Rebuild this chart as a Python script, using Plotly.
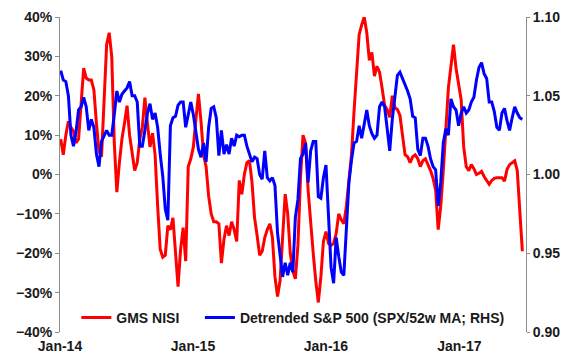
import pandas as pd
import plotly.graph_objects as go

# GMS NISI, weekly, in percent (left axis)
nisi = [9, 5, 10, 13.5, 12, 11, 8, 9, 18, 27,
        24.5, 24, 24, 21.5, 13, 6, 4.5, 18, 33, 36,
        30, 8, -4.5, 3, 9, 13, 17.5, 10, 5, 1,
        3, 9, 12, 19.5, 13, 7, 10.5, 5, -8, -19,
        -21, -20.5, -13, -14, -11, -20, -28.5, -19, -13.5, -22,
        2, 4, 7, 14, 20.5, 13.5, 5, 2, -5.5, -10,
        -12, -12, -12.5, -22.5, -16.5, -13, -15.5, -12, -14, -17,
        -1.5, -5, 0, 3, 3.5, -2, -11, -15.5, -20.5, -19.5,
        -16, -14, -12.5, -16, -26, -31, -27, -16, -5, -10,
        -20, -24.5, -26.5, -18, -1, 10, 8, -4, -13, -20,
        -27, -32.5, -26, -17, -14.5, -17.5, -18, -17.5, -15, -10,
        -11.5, -12.5, -8, -2, 5, 16, 27, 35.5, 38, 40,
        36, 29, 31, 25, 27.5, 26, 22, 17.5, 16.5, 14.5,
        20, 17, 16.5, 15, 10, 5, 4.5, 3, 4.5, 5,
        4, 2, 3.5, 4, 2.5, 1, -1, -4, -14, -8,
        1, 12, 22, 27.5, 33, 27, 23.5, 19, 7, 2,
        1, 2.5, 1.5, 0, 0.3, 0.8, -0.5, -1.5, -2.5, -1.5,
        -1, -0.8, -0.8, -0.8, -1.7, 1.3, 2.5, 3, 3.5, 1,
        -9, -19.5]

# Detrended S&P 500 (SPX / 52w MA), weekly (right axis)
spx_ratio = [1.066, 1.060, 1.059, 1.050, 1.025, 1.018, 1.027, 1.041, 1.043, 1.049,
             1.043, 1.028, 1.035, 1.030, 1.013, 1.005, 1.021, 1.025, 1.028, 1.025,
             1.025, 1.038, 1.053, 1.046, 1.051, 1.053, 1.055, 1.059, 1.050, 1.050,
             1.046, 1.018, 1.018, 1.028, 1.039, 1.045, 1.035, 1.039, 1.030, 1.013,
             0.999, 0.978, 0.971, 1.031, 1.036, 1.037, 1.044, 1.046, 1.046, 1.030,
             1.039, 1.046, 1.038, 1.028, 1.016, 1.011, 1.020, 1.008, 1.030, 1.042,
             1.043, 1.036, 1.012, 1.028, 1.013, 1.019, 1.013, 1.023, 1.018, 1.025,
             1.024, 1.025, 1.025, 1.018, 1.013, 1.008, 1.011, 1.010, 1.000, 0.997,
             1.015, 0.998, 0.996, 0.998, 0.993, 0.963, 0.949, 0.935, 0.944, 0.936,
             0.944, 0.938, 0.973, 0.984, 1.010, 1.013, 1.020, 0.995, 1.015, 1.021,
             1.021, 0.986, 0.985, 0.998, 1.006, 0.970, 0.941, 0.931, 0.960, 0.948,
             0.938, 0.936, 0.963, 0.995, 1.009, 1.020, 1.021, 1.031, 1.023, 1.031,
             1.041, 1.031, 1.026, 1.023, 1.025, 1.043, 1.046, 1.043, 1.030, 1.015,
             1.035, 1.049, 1.063, 1.065, 1.061, 1.058, 1.053, 1.048, 1.037, 1.036,
             1.016, 1.012, 1.023, 1.023, 1.018, 1.010, 1.005, 1.003, 0.980, 0.995,
             1.020, 1.029, 1.025, 1.048, 1.043, 1.041, 1.031, 1.039, 1.043, 1.039,
             1.041, 1.046, 1.049, 1.060, 1.068, 1.071, 1.064, 1.061, 1.046, 1.046,
             1.040, 1.030, 1.028, 1.039, 1.042, 1.034, 1.028, 1.036, 1.043, 1.039,
             1.036, 1.035]

if len(nisi) != len(spx_ratio):
    raise ValueError(f"length mismatch {len(nisi)} vs {len(spx_ratio)}")

dates = pd.date_range("2014-01-03", periods=len(nisi), freq="7D")

tick_dates = ["2014-01-01", "2015-01-01", "2016-01-01", "2017-01-01"]
tick_text = ["Jan-14", "Jan-15", "Jan-16", "Jan-17"]
x_range = ["2014-01-01", "2017-07-03"]

FONT = dict(family="Liberation Sans, Arial, sans-serif", size=14, color="#1a1a1a", weight="bold")
AXIS_GREY = "#8c8c8c"

fig = go.Figure()
fig.add_trace(go.Scatter(x=dates, y=nisi, name="GMS NISI\u00a0\u00a0\u00a0\u00a0", mode="lines",
                         line=dict(color="#FF0000", width=3), yaxis="y"))
fig.add_trace(go.Scatter(x=dates, y=spx_ratio,
                         name="Detrended S&P 500 (SPX/52w MA; RHS)", mode="lines",
                         line=dict(color="#0000FF", width=3), yaxis="y2"))

# the page body adds an 8px offset, so the figure is sized to the visible area
fig.update_layout(
    width=560, height=350,
    margin=dict(l=52, r=42, t=9, b=26, autoexpand=False),
    paper_bgcolor="white", plot_bgcolor="white",
    font=FONT,
    showlegend=True,
    legend=dict(orientation="h", x=0.035, y=0.045, xanchor="left", yanchor="middle",
                bgcolor="rgba(0,0,0,0)", font=FONT, itemwidth=30, tracegroupgap=0),
    xaxis=dict(range=x_range, tickvals=tick_dates, ticktext=tick_text,
               showgrid=False, zeroline=False, showline=False, ticks="",
               tickfont=FONT, automargin=False, ticklabelstandoff=4),
    xaxis2=dict(range=x_range, overlaying="x", anchor="free", position=0.5,
                tickvals=tick_dates, showticklabels=False, showgrid=False,
                showline=True, linecolor=AXIS_GREY, linewidth=1,
                ticks="inside", ticklen=4, tickcolor=AXIS_GREY, automargin=False),
    yaxis=dict(range=[-40, 40], dtick=10, ticksuffix="%", showgrid=False,
               zeroline=False, showline=True, linecolor=AXIS_GREY, linewidth=1,
               ticks="outside", ticklen=4, tickcolor=AXIS_GREY, tickfont=FONT,
               automargin=False),
    yaxis2=dict(range=[0.90, 1.10], dtick=0.05, tickformat=".2f", overlaying="y",
                side="right", showgrid=False, zeroline=False, showline=True,
                linecolor=AXIS_GREY, linewidth=1, ticks="outside", ticklen=3,
                tickcolor=AXIS_GREY, tickfont=FONT, automargin=False),
)

fig.write_html("out.html")
